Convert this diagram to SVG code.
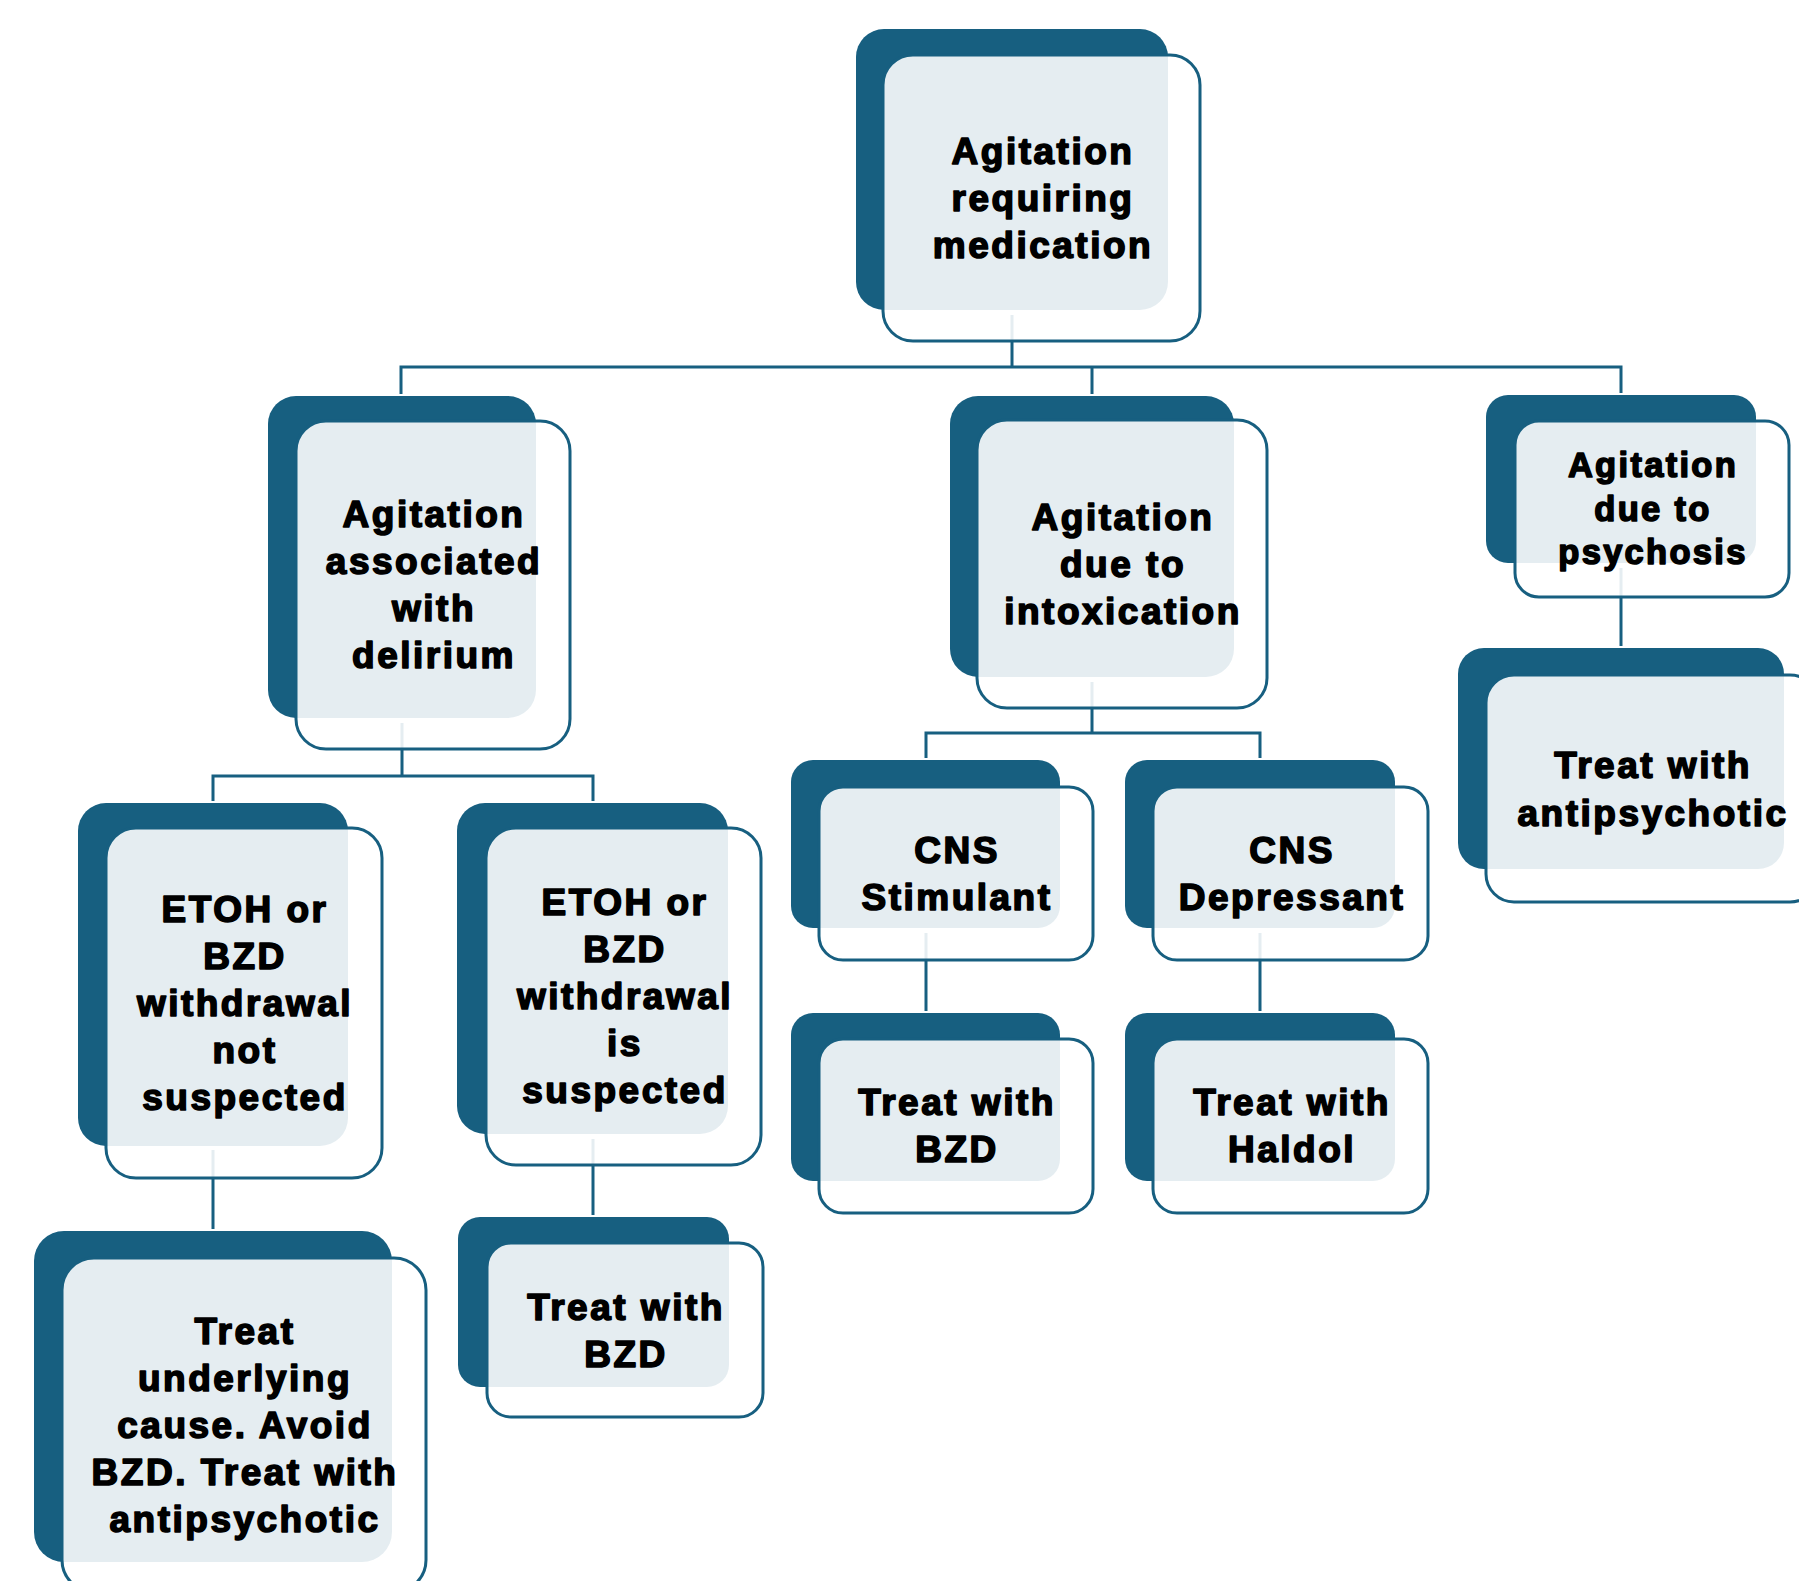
<svg xmlns="http://www.w3.org/2000/svg" width="1799" height="1581" viewBox="0 0 1799 1581">
<style>
.bg{fill:#ffffff}
.dk{fill:#175f80}
.ol{fill:#ffffff;fill-opacity:0.89;stroke:#175f80;stroke-width:3}
.cn{fill:none;stroke:#175f80;stroke-width:3}
.t{font-family:"Liberation Sans",Arial,sans-serif;font-weight:bold;font-size:37px;letter-spacing:2.5px;fill:#000;stroke:#000;stroke-width:1.6;stroke-linejoin:round;text-anchor:middle}
.s{font-size:34.5px;letter-spacing:2.3px}
</style>
<rect class="bg" x="0" y="0" width="1799" height="1581"/>
<g id="connectors">
<path class="cn" d="M1012 315 V367 M401 394 V367 H1621 V393 M1092 367 V394"/>
<path class="cn" d="M402 723 V776 M213 801 V776 H593 V801"/>
<path class="cn" d="M1092 682 V733 M926 758 V733 H1260 V758"/>
<path class="cn" d="M1621 568 V646"/>
<path class="cn" d="M213 1150 V1229"/>
<path class="cn" d="M593 1139 V1215"/>
<path class="cn" d="M926 933 V1011"/>
<path class="cn" d="M1260 933 V1011"/>
</g>
<g id="n-top">
<rect class="dk" x="856" y="29" width="312" height="281" rx="28"/>
<rect class="ol" x="883" y="55" width="317" height="286" rx="30"/>
<text class="t" x="1043" y="164">Agitation</text>
<text class="t" x="1043" y="211">requiring</text>
<text class="t" x="1043" y="258">medication</text>
</g>
<g id="n-delirium">
<rect class="dk" x="268" y="396" width="268" height="322" rx="28"/>
<rect class="ol" x="296" y="421" width="274" height="328" rx="30"/>
<text class="t" x="434" y="527">Agitation</text>
<text class="t" x="434" y="574">associated</text>
<text class="t" x="434" y="621">with</text>
<text class="t" x="434" y="668">delirium</text>
</g>
<g id="n-intox">
<rect class="dk" x="950" y="396" width="284" height="281" rx="28"/>
<rect class="ol" x="977" y="420" width="290" height="288" rx="30"/>
<text class="t" x="1123" y="530">Agitation</text>
<text class="t" x="1123" y="577">due to</text>
<text class="t" x="1123" y="624">intoxication</text>
</g>
<g id="n-psychosis">
<rect class="dk" x="1486" y="395" width="270" height="168" rx="22"/>
<rect class="ol" x="1515" y="421" width="274" height="176" rx="24"/>
<text class="t s" x="1653" y="477">Agitation</text>
<text class="t s" x="1653" y="521">due to</text>
<text class="t s" x="1653" y="564">psychosis</text>
</g>
<g id="n-antipsychotic">
<rect class="dk" x="1458" y="648" width="326" height="221" rx="26"/>
<rect class="ol" x="1486" y="675" width="332" height="227" rx="28"/>
<text class="t" x="1653" y="778">Treat with</text>
<text class="t" x="1653" y="826">antipsychotic</text>
</g>
<g id="n-etoh-not">
<rect class="dk" x="78" y="803" width="270" height="343" rx="28"/>
<rect class="ol" x="106" y="828" width="276" height="350" rx="30"/>
<text class="t" x="245" y="922">ETOH or</text>
<text class="t" x="245" y="969">BZD</text>
<text class="t" x="245" y="1016">withdrawal</text>
<text class="t" x="245" y="1063">not</text>
<text class="t" x="245" y="1110">suspected</text>
</g>
<g id="n-etoh-is">
<rect class="dk" x="457" y="803" width="271" height="331" rx="28"/>
<rect class="ol" x="486" y="828" width="275" height="337" rx="30"/>
<text class="t" x="625" y="915">ETOH or</text>
<text class="t" x="625" y="962">BZD</text>
<text class="t" x="625" y="1009">withdrawal</text>
<text class="t" x="625" y="1056">is</text>
<text class="t" x="625" y="1103">suspected</text>
</g>
<g id="n-underlying">
<rect class="dk" x="34" y="1231" width="358" height="331" rx="30"/>
<rect class="ol" x="62" y="1258" width="364" height="334" rx="32"/>
<text class="t" x="245" y="1344">Treat</text>
<text class="t" x="245" y="1391">underlying</text>
<text class="t" x="245" y="1438">cause. Avoid</text>
<text class="t" x="245" y="1485">BZD. Treat with</text>
<text class="t" x="245" y="1532">antipsychotic</text>
</g>
<g id="n-bzd1">
<rect class="dk" x="458" y="1217" width="271" height="170" rx="22"/>
<rect class="ol" x="487" y="1243" width="276" height="174" rx="24"/>
<text class="t" x="626" y="1320">Treat with</text>
<text class="t" x="626" y="1367">BZD</text>
</g>
<g id="n-stimulant">
<rect class="dk" x="791" y="760" width="269" height="168" rx="22"/>
<rect class="ol" x="819" y="787" width="274" height="173" rx="24"/>
<text class="t" x="957" y="863">CNS</text>
<text class="t" x="957" y="910">Stimulant</text>
</g>
<g id="n-depressant">
<rect class="dk" x="1125" y="760" width="270" height="168" rx="22"/>
<rect class="ol" x="1153" y="787" width="275" height="173" rx="24"/>
<text class="t" x="1292" y="863">CNS</text>
<text class="t" x="1292" y="910">Depressant</text>
</g>
<g id="n-bzd2">
<rect class="dk" x="791" y="1013" width="269" height="168" rx="22"/>
<rect class="ol" x="819" y="1039" width="274" height="174" rx="24"/>
<text class="t" x="957" y="1115">Treat with</text>
<text class="t" x="957" y="1162">BZD</text>
</g>
<g id="n-haldol">
<rect class="dk" x="1125" y="1013" width="270" height="168" rx="22"/>
<rect class="ol" x="1153" y="1039" width="275" height="174" rx="24"/>
<text class="t" x="1292" y="1115">Treat with</text>
<text class="t" x="1292" y="1162">Haldol</text>
</g>
</svg>
